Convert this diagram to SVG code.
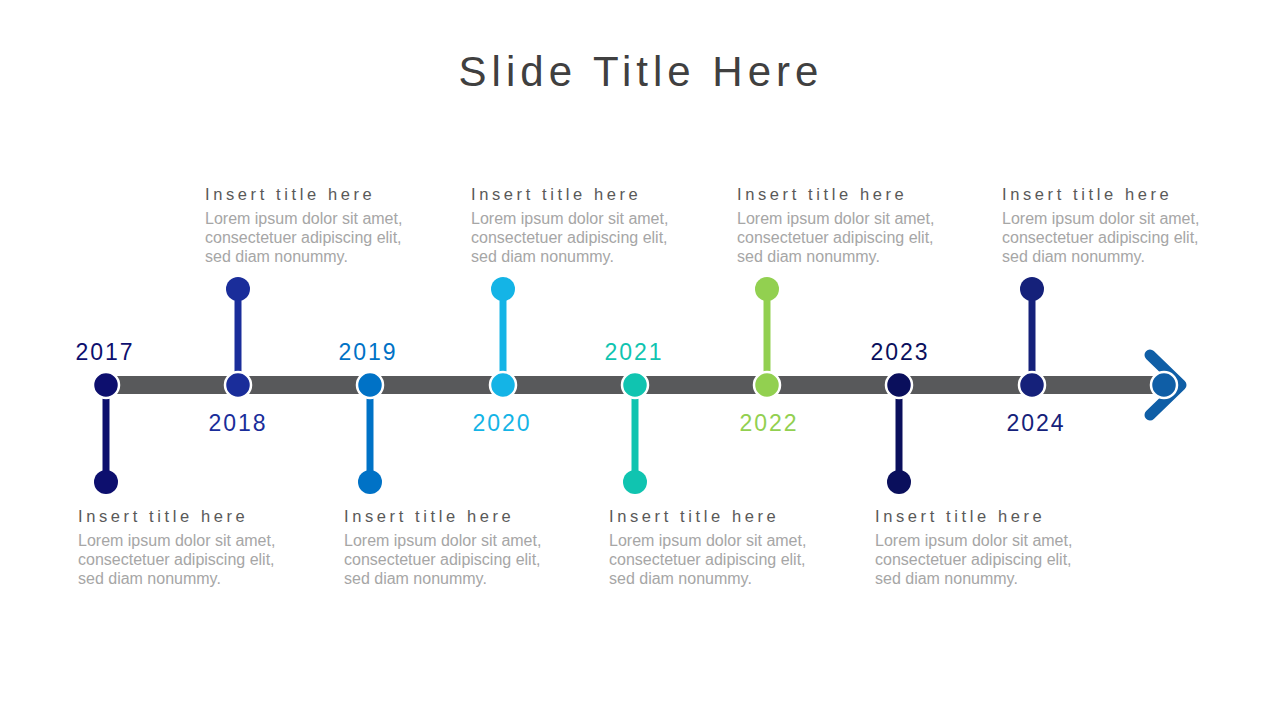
<svg xmlns="http://www.w3.org/2000/svg" width="1280" height="720" viewBox="0 0 1280 720">
<style>
.title{font-family:"Liberation Sans",Arial,sans-serif;font-size:42px;fill:#404040;letter-spacing:5px}
.yr{font-family:"Liberation Sans",Arial,sans-serif;font-size:23px;text-anchor:middle;letter-spacing:2px}
.it{font-family:"Liberation Sans",Arial,sans-serif;font-size:16.5px;fill:#595959;letter-spacing:3.6px}
.bd{font-family:"Liberation Sans",Arial,sans-serif;font-size:16px;fill:#A6A6A6}
.dot{stroke:#FFFFFF;stroke-width:2.5}
</style>
<rect width="1280" height="720" fill="#FFFFFF"/>
<text class="title" x="641" y="86" text-anchor="middle">Slide Title Here</text>
<g id="connectors">
<rect x="106" y="376" width="1058" height="18" fill="#58595B"/>
<polyline points="1150,355 1181,385 1150,415" fill="none" stroke="#0F5EA6" stroke-width="11" stroke-linecap="round" stroke-linejoin="round"/>
<line x1="106" y1="385" x2="106" y2="482" stroke="#0D0F6E" stroke-width="7"/>
<line x1="238" y1="385" x2="238" y2="289" stroke="#1A2D9A" stroke-width="7"/>
<line x1="370" y1="385" x2="370" y2="482" stroke="#0072C6" stroke-width="7"/>
<line x1="503" y1="385" x2="503" y2="289" stroke="#14B4E6" stroke-width="7"/>
<line x1="635" y1="385" x2="635" y2="482" stroke="#10C4B0" stroke-width="7"/>
<line x1="767" y1="385" x2="767" y2="289" stroke="#92D050" stroke-width="7"/>
<line x1="899" y1="385" x2="899" y2="482" stroke="#0A0F5C" stroke-width="7"/>
<line x1="1032" y1="385" x2="1032" y2="289" stroke="#15217A" stroke-width="7"/>
</g>
<g id="n2017">
<circle class="dot" cx="106" cy="385" r="13" fill="#0D0F6E"/>
<circle cx="106" cy="482" r="12" fill="#0D0F6E"/>
<text class="yr" x="105" y="360" fill="#0D0F6E">2017</text>
<text class="it" x="78" y="522">Insert title here</text>
<text class="bd" x="78" y="546">Lorem ipsum dolor sit amet,</text>
<text class="bd" x="78" y="565">consectetuer adipiscing elit,</text>
<text class="bd" x="78" y="584">sed diam nonummy.</text>
</g>
<g id="n2018">
<circle class="dot" cx="238" cy="385" r="13" fill="#1A2D9A"/>
<circle cx="238" cy="289" r="12" fill="#1A2D9A"/>
<text class="yr" x="238" y="431" fill="#1A2D9A">2018</text>
<text class="it" x="205" y="200">Insert title here</text>
<text class="bd" x="205" y="224">Lorem ipsum dolor sit amet,</text>
<text class="bd" x="205" y="243">consectetuer adipiscing elit,</text>
<text class="bd" x="205" y="262">sed diam nonummy.</text>
</g>
<g id="n2019">
<circle class="dot" cx="370" cy="385" r="13" fill="#0072C6"/>
<circle cx="370" cy="482" r="12" fill="#0072C6"/>
<text class="yr" x="368" y="360" fill="#0072C6">2019</text>
<text class="it" x="344" y="522">Insert title here</text>
<text class="bd" x="344" y="546">Lorem ipsum dolor sit amet,</text>
<text class="bd" x="344" y="565">consectetuer adipiscing elit,</text>
<text class="bd" x="344" y="584">sed diam nonummy.</text>
</g>
<g id="n2020">
<circle class="dot" cx="503" cy="385" r="13" fill="#14B4E6"/>
<circle cx="503" cy="289" r="12" fill="#14B4E6"/>
<text class="yr" x="502" y="431" fill="#14B4E6">2020</text>
<text class="it" x="471" y="200">Insert title here</text>
<text class="bd" x="471" y="224">Lorem ipsum dolor sit amet,</text>
<text class="bd" x="471" y="243">consectetuer adipiscing elit,</text>
<text class="bd" x="471" y="262">sed diam nonummy.</text>
</g>
<g id="n2021">
<circle class="dot" cx="635" cy="385" r="13" fill="#10C4B0"/>
<circle cx="635" cy="482" r="12" fill="#10C4B0"/>
<text class="yr" x="634" y="360" fill="#10C4B0">2021</text>
<text class="it" x="609" y="522">Insert title here</text>
<text class="bd" x="609" y="546">Lorem ipsum dolor sit amet,</text>
<text class="bd" x="609" y="565">consectetuer adipiscing elit,</text>
<text class="bd" x="609" y="584">sed diam nonummy.</text>
</g>
<g id="n2022">
<circle class="dot" cx="767" cy="385" r="13" fill="#92D050"/>
<circle cx="767" cy="289" r="12" fill="#92D050"/>
<text class="yr" x="769" y="431" fill="#92D050">2022</text>
<text class="it" x="737" y="200">Insert title here</text>
<text class="bd" x="737" y="224">Lorem ipsum dolor sit amet,</text>
<text class="bd" x="737" y="243">consectetuer adipiscing elit,</text>
<text class="bd" x="737" y="262">sed diam nonummy.</text>
</g>
<g id="n2023">
<circle class="dot" cx="899" cy="385" r="13" fill="#0A0F5C"/>
<circle cx="899" cy="482" r="12" fill="#0A0F5C"/>
<text class="yr" x="900" y="360" fill="#0A0F5C">2023</text>
<text class="it" x="875" y="522">Insert title here</text>
<text class="bd" x="875" y="546">Lorem ipsum dolor sit amet,</text>
<text class="bd" x="875" y="565">consectetuer adipiscing elit,</text>
<text class="bd" x="875" y="584">sed diam nonummy.</text>
</g>
<g id="n2024">
<circle class="dot" cx="1032" cy="385" r="13" fill="#15217A"/>
<circle cx="1032" cy="289" r="12" fill="#15217A"/>
<text class="yr" x="1036" y="431" fill="#15217A">2024</text>
<text class="it" x="1002" y="200">Insert title here</text>
<text class="bd" x="1002" y="224">Lorem ipsum dolor sit amet,</text>
<text class="bd" x="1002" y="243">consectetuer adipiscing elit,</text>
<text class="bd" x="1002" y="262">sed diam nonummy.</text>
</g>
<g id="end">
<circle class="dot" cx="1164" cy="385" r="13" fill="#0F5EA6"/>
</g>
</svg>
